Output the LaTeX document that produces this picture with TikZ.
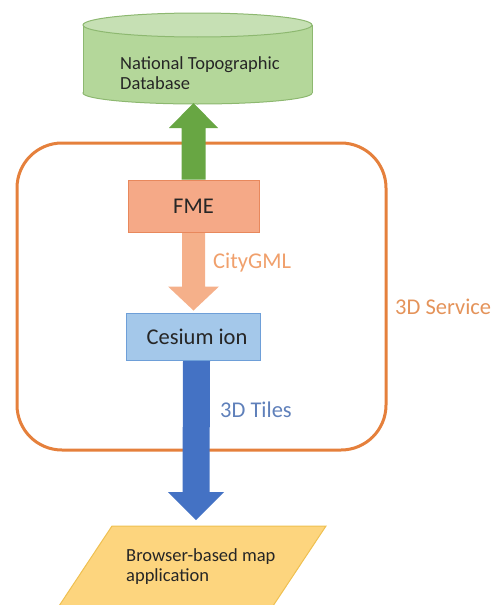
\documentclass[tikz,border=0pt]{standalone}
\usepackage{fontspec}
\setmainfont{Carlito}
\usetikzlibrary{calc}
\definecolor{dbfill}{HTML}{B4D79A}
\definecolor{dbtop}{HTML}{C6E0B4}
\definecolor{dbline}{HTML}{8DB870}
\definecolor{garrow}{HTML}{68A643}
\definecolor{svcorange}{HTML}{E5803C}
\definecolor{fmefill}{HTML}{F5A987}
\definecolor{fmeline}{HTML}{E8885C}
\definecolor{oarrow}{HTML}{F5B08A}
\definecolor{cesfill}{HTML}{A4C8EA}
\definecolor{cesline}{HTML}{6E9FD8}
\definecolor{barrow}{HTML}{4472C4}
\definecolor{appfill}{HTML}{FDD57E}
\definecolor{appline}{HTML}{EFC050}
\definecolor{citycol}{HTML}{F0A06C}
\definecolor{tilescol}{HTML}{5F80BA}
\definecolor{svctext}{HTML}{E4935A}
\definecolor{darktext}{HTML}{262626}
\begin{document}
\begin{tikzpicture}[x=1pt,y=-1pt,
  box/.style={draw, line width=1pt, minimum width=131pt, minimum height=52pt,
    font=\fontsize{22.5}{24}\selectfont, text=darktext, inner sep=0pt},
  lbl/.style={anchor=west, inner sep=0pt, font=\fontsize{22.5}{24}\selectfont},
  smalltext/.style={anchor=west, inner sep=0pt, align=left, text=darktext,
    font=\fontsize{18.5}{20}\selectfont},
  svc/.style={draw=svcorange, line width=3pt, rounded corners=45pt}]
\useasboundingbox (0,0) rectangle (499,605);
\clip (0,0) rectangle (499,605);

% container
\node[svc, minimum width=369pt, minimum height=307pt] (svc) at (201.5,296.5) {};
\node[lbl, text=svctext] (lsvc) at (395,307) {3D Service};

% database cylinder
\filldraw[fill=dbfill, draw=dbline, line width=1pt] (197.5,93) ellipse [x radius=114.5, y radius=11];
\fill[dbfill] (83,25) rectangle (312,93);
\draw[dbline, line width=1pt] (83,25) -- (83,93) (312,25) -- (312,93);
\filldraw[fill=dbtop, draw=dbline, line width=1pt] (197.5,25) ellipse [x radius=114.5, y radius=12];
\node[smalltext] (db) at (120,73) {National Topographic\\Database};

% boxes
\node[box, fill=fmefill, draw=fmeline] (fme) at (193.5,206) {FME};
\node[box, fill=cesfill, draw=cesline, minimum width=134pt, minimum height=47pt] (ces) at (193,336.5) {\hspace{8pt}Cesium ion};

% application parallelogram
\filldraw[fill=appfill, draw=appline, line width=1pt] (112,526) -- (326,526) -- (267,615) -- (53,615) -- cycle;
\node[smalltext] (app) at (126,567) {Browser-based map\\application};

% arrow tips
\coordinate (dbtip) at (193.5,103);
\coordinate (cestip) at ($(ces.north)+(0.5,-2)$);
\coordinate (apptip) at (196,520);

% green arrow FME -> database
\fill[garrow] ($(fme.north)+(-12,0)$) -- ($(dbtip)+(-12,25)$) -- ($(dbtip)+(-24.5,25)$) -- (dbtip)
  -- ($(dbtip)+(24.5,25)$) -- ($(dbtip)+(12,25)$) -- ($(fme.north)+(12,0)$) -- cycle;
% orange arrow FME -> Cesium ion
\fill[oarrow] ($(fme.south)+(-11.5,0.5)$) -- ($(cestip)+(-11.5,-24)$) -- ($(cestip)+(-25.5,-24)$) -- (cestip)
  -- ($(cestip)+(25.5,-24)$) -- ($(cestip)+(11.5,-24)$) -- ($(fme.south)+(11.5,0.5)$) -- cycle;
\node[lbl, text=citycol] (lcity) at (213,263) {CityGML};
% blue arrow Cesium ion -> application
\fill[barrow] ($(ces.south)+(-10,0.5)$) -- ($(apptip)+(-13.5,-28)$) -- ($(apptip)+(-28,-28)$) -- (apptip)
  -- ($(apptip)+(28,-28)$) -- ($(apptip)+(13.5,-28)$) -- ($(ces.south)+(17,0.5)$) -- cycle;
\node[lbl, text=tilescol] (ltiles) at (220,410) {3D Tiles};
\end{tikzpicture}
\end{document}
